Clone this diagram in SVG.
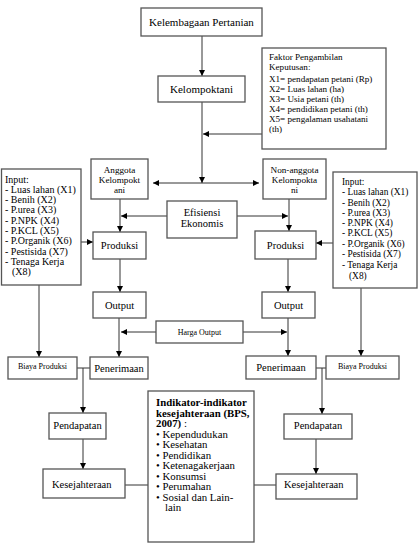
<svg xmlns="http://www.w3.org/2000/svg" width="419" height="544" viewBox="0 0 419 544">
<style>
.box{fill:#fff;stroke:#555;stroke-width:1.3}
text{font-family:'Liberation Serif','Times New Roman','DejaVu Serif',serif;font-size:10.5px;fill:#000}
.c{text-anchor:middle}
.m{font-size:11px}
.f{font-size:9.1px}
.a{font-size:9.2px}
.il{font-size:10px}
.ir{font-size:9.4px}
.ind{font-size:10.8px}
.xs{font-size:8px}
.b{font-weight:bold}
.ln{fill:none;stroke:#333;stroke-width:1}
</style>
<defs>
<marker id="ah" markerWidth="6" markerHeight="6" refX="6" refY="3" orient="auto-start-reverse" markerUnits="userSpaceOnUse">
<path d="M0,0 L6,3 L0,6 Z" fill="#000"/>
</marker>
</defs>
<rect width="419" height="544" fill="#fff"/>

<g id="connectors">
<path class="ln" d="M202,36 V76" marker-end="url(#ah)"/>
<path class="ln" d="M202,102 V183" marker-end="url(#ah)"/>
<path class="ln" d="M262,134 H203" marker-end="url(#ah)"/>
<path class="ln" d="M153,183 H259" marker-start="url(#ah)" marker-end="url(#ah)"/>
<path class="ln" d="M120,199 V232" marker-end="url(#ah)"/>
<path class="ln" d="M167,216 H121" marker-end="url(#ah)"/>
<path class="ln" d="M237,216 H288" marker-end="url(#ah)"/>
<path class="ln" d="M289,199 V231" marker-end="url(#ah)"/>
<path class="ln" d="M81,242 H93" marker-end="url(#ah)"/>
<path class="ln" d="M333,243 H316" marker-end="url(#ah)"/>
<path class="ln" d="M120,259 V292" marker-end="url(#ah)"/>
<path class="ln" d="M288,259 V292" marker-end="url(#ah)"/>
<path class="ln" d="M119,318 V357" marker-end="url(#ah)"/>
<path class="ln" d="M288,318 V356" marker-end="url(#ah)"/>
<path class="ln" d="M156,332 H121" marker-end="url(#ah)"/>
<path class="ln" d="M243,332 H287" marker-end="url(#ah)"/>
<path class="ln" d="M39,285 V357" marker-end="url(#ah)"/>
<path class="ln" d="M361,288 V356" marker-end="url(#ah)"/>
<path class="ln" d="M77,368 H90"/>
<path class="ln" d="M83,368 V413" marker-end="url(#ah)"/>
<path class="ln" d="M316,368 H326"/>
<path class="ln" d="M322,368 V414" marker-end="url(#ah)"/>
<path class="ln" d="M83,439 V469" marker-end="url(#ah)"/>
<path class="ln" d="M316,439 V474" marker-end="url(#ah)"/>
<path class="ln" d="M125,485 H148"/>
<path class="ln" d="M254,485 H276"/>
</g>

<g id="kelembagaan"><rect class="box" x="141" y="8" width="121" height="28"/><text class="c m" x="201.5" y="26">Kelembagaan Pertanian</text></g>
<g id="kelompoktani"><rect class="box" x="158" y="76" width="87" height="26"/><text class="c m" x="201.5" y="93">Kelompoktani</text></g>
<g id="faktor"><rect class="box" x="262" y="48" width="124" height="101"/>
<text class="f"><tspan x="269" y="60">Faktor Pengambilan</tspan><tspan x="269" y="70">Keputusan:</tspan><tspan x="269" y="82">X1= pendapatan petani (Rp)</tspan><tspan x="269" y="92">X2= Luas lahan (ha)</tspan><tspan x="269" y="102">X3= Usia petani (th)</tspan><tspan x="269" y="112">X4= pendidikan petani (th)</tspan><tspan x="269" y="122">X5= pengalaman usahatani</tspan><tspan x="269" y="132">(th)</tspan></text></g>
<g id="anggota"><rect class="box" x="91" y="159" width="57" height="40"/>
<text class="a c"><tspan x="119.5" y="173">Anggota</tspan><tspan x="119.5" y="183">Kelompokt</tspan><tspan x="119.5" y="193">ani</tspan></text></g>
<g id="nonanggota"><rect class="box" x="263" y="159" width="63" height="40"/>
<text class="a c"><tspan x="294.5" y="173">Non-anggota</tspan><tspan x="294.5" y="183">Kelompokta</tspan><tspan x="294.5" y="193">ni</tspan></text></g>
<g id="efisiensi"><rect class="box" x="167" y="201" width="70" height="37"/>
<text class="c"><tspan x="202" y="216">Efisiensi</tspan><tspan x="202" y="227">Ekonomis</tspan></text></g>
<g id="input-kiri"><rect class="box" x="1.5" y="169" width="79.5" height="116"/>
<text class="il"><tspan x="5" y="183">Input:</tspan><tspan x="5" y="193">-  Luas lahan (X1)</tspan><tspan x="5" y="203">-  Benih (X2)</tspan><tspan x="5" y="213">-  P.urea (X3)</tspan><tspan x="5" y="224">-  P.NPK (X4)</tspan><tspan x="5" y="234">-  P.KCL (X5)</tspan><tspan x="5" y="244">-  P.Organik (X6)</tspan><tspan x="5" y="255">-  Pestisida (X7)</tspan><tspan x="5" y="265">-  Tenaga Kerja</tspan><tspan x="12" y="275">(X8)</tspan></text></g>
<g id="input-kanan"><rect class="box" x="333" y="172" width="84" height="116"/>
<text class="ir"><tspan x="342" y="185">Input:</tspan><tspan x="342" y="195">-  Luas lahan (X1)</tspan><tspan x="342" y="206">-  Benih (X2)</tspan><tspan x="342" y="216">-  P.urea (X3)</tspan><tspan x="342" y="226">-  P.NPK (X4)</tspan><tspan x="342" y="236">-  P.KCL (X5)</tspan><tspan x="342" y="247">-  P.Organik (X6)</tspan><tspan x="342" y="257">-  Pestisida (X7)</tspan><tspan x="342" y="268">-  Tenaga Kerja</tspan><tspan x="349" y="279">(X8)</tspan></text></g>
<g id="produksi-kiri"><rect class="box" x="93" y="232" width="53" height="27"/><text class="c" x="119.5" y="249">Produksi</text></g>
<g id="produksi-kanan"><rect class="box" x="255" y="231" width="61" height="28"/><text class="c" x="285.5" y="249">Produksi</text></g>
<g id="output-kiri"><rect class="box" x="93" y="292" width="53" height="26"/><text class="c" x="119.5" y="309">Output</text></g>
<g id="output-kanan"><rect class="box" x="262" y="292" width="53" height="26"/><text class="c" x="288.5" y="309">Output</text></g>
<g id="harga-output"><rect class="box" x="156" y="321" width="87" height="22"/><text class="xs c" x="199.5" y="335">Harga Output</text></g>
<g id="biaya-kiri"><rect class="box" x="8" y="357" width="69" height="22"/><text class="xs c" x="42.5" y="369">Biaya Produksi</text></g>
<g id="penerimaan-kiri"><rect class="box" x="90" y="357" width="58" height="22"/><text class="c" x="119" y="371.5">Penerimaan</text></g>
<g id="penerimaan-kanan"><rect class="box" x="246" y="356" width="70" height="23"/><text class="c" x="281" y="371">Penerimaan</text></g>
<g id="biaya-kanan"><rect class="box" x="326" y="356" width="73" height="23"/><text class="xs c" x="362.5" y="368.5">Biaya Produksi</text></g>
<g id="pendapatan-kiri"><rect class="box" x="49" y="413" width="57" height="26"/><text class="c" x="77.5" y="429">Pendapatan</text></g>
<g id="pendapatan-kanan"><rect class="box" x="284" y="414" width="68" height="25"/><text class="c" x="318" y="429">Pendapatan</text></g>
<g id="indikator"><rect class="box" x="148" y="391" width="106" height="151"/>
<text class="ind"><tspan class="b" x="156" y="406">Indikator-indikator</tspan><tspan class="b" x="156" y="416.5">kesejahteraan (BPS,</tspan><tspan class="b" x="156" y="427">2007)</tspan><tspan> :</tspan>
<tspan x="156" y="437.5">•  Kependudukan</tspan><tspan x="156" y="448">•  Kesehatan</tspan><tspan x="156" y="458.5">•  Pendidikan</tspan><tspan x="156" y="469">•  Ketenagakerjaan</tspan><tspan x="156" y="479.5">•  Konsumsi</tspan><tspan x="156" y="490">•  Perumahan</tspan><tspan x="156" y="500.5">•  Sosial dan Lain-</tspan><tspan x="165" y="511">lain</tspan></text></g>
<g id="kesejahteraan-kiri"><rect class="box" x="43" y="469" width="82" height="29"/><text x="52" y="488">Kesejahteraan</text></g>
<g id="kesejahteraan-kanan"><rect class="box" x="276" y="474" width="81" height="25"/><text x="284" y="488">Kesejahteraan</text></g>
</svg>
